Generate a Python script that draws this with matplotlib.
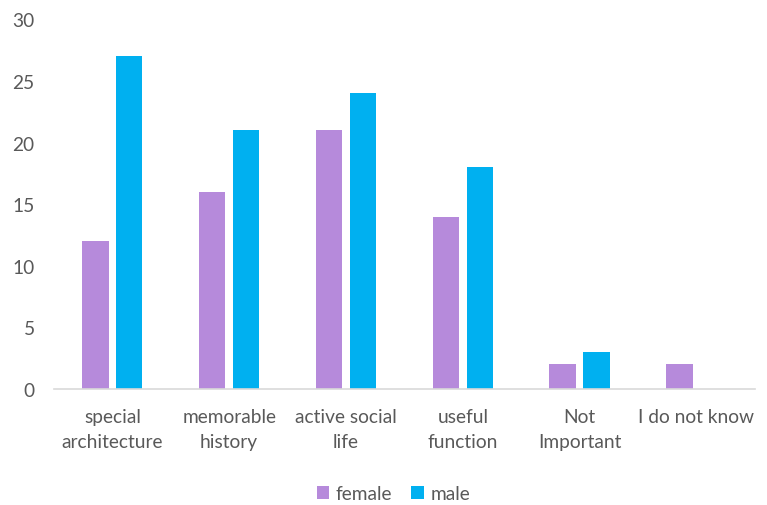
import matplotlib
matplotlib.use("Agg")
import matplotlib.pyplot as plt
import numpy as np

categories = ["special\narchitecture", "memorable\nhistory", "active social\nlife",
              "useful\nfunction", "Not\nImportant", "I do not know"]
female = [12, 16, 21, 14, 2, 2]
male = [27, 21, 24, 18, 3, 0]
yticks = [0, 5, 10, 15, 20, 25, 30]

plt.rcParams['font.family'] = ['Lato', 'DejaVu Sans']

fig = plt.figure(figsize=(7.67, 5.06), dpi=100)
ax = fig.add_axes([0.0704, 0.229, 0.9136, 0.731])

x = np.arange(len(categories))
w = 0.225
off = 0.145
ax.bar(x - off, female, width=w, color="#B68ADB", label="female")
ax.bar(x + off, male, width=w, color="#00B0F0", label="male")

ax.set_xlim(-0.5, len(categories) - 0.5)
ax.set_ylim(0, 30)
ax.set_yticks(yticks)
ax.set_xticks(x)
ax.set_xticklabels(categories, fontsize=13.8, color="#595959", linespacing=1.6)
ax.tick_params(axis='y', labelsize=13.8, labelcolor="#595959", length=0, pad=14)
ax.tick_params(axis='x', length=0, pad=13.5)
for s in ["top", "right", "left"]:
    ax.spines[s].set_visible(False)
ax.spines["bottom"].set_color("#D9D9D9")
ax.spines["bottom"].set_linewidth(1.2)

leg = fig.legend(loc="center", bbox_to_anchor=(0.513, 0.022), ncol=2, frameon=False,
                 fontsize=13.8, handlelength=0.65, handleheight=0.65, handletextpad=0.35,
                 columnspacing=1.0)
for t in leg.get_texts():
    t.set_color("#595959")

fig.savefig("out.png", dpi=100)
